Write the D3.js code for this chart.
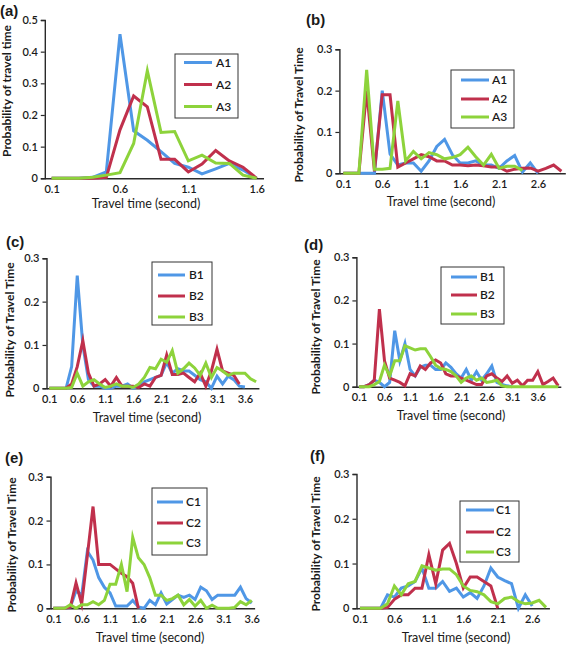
<!DOCTYPE html>
<html><head><meta charset="utf-8">
<script src="https://cdn.jsdelivr.net/npm/d3@7/dist/d3.min.js"></script>
<style>
body{margin:0;background:#fff;}
svg{display:block;}
text{font-family:Lato,"Open Sans",sans-serif;fill:#1a1a1a;}
</style></head><body>
<svg id="chart" width="568" height="645"></svg>
<script>
// ---------- categories (travel time, seconds) ----------
const catsA = ["0.1","0.2","0.3","0.4","0.5","0.6","0.7","0.8","0.9","1.0","1.1","1.2","1.3","1.4","1.5","1.6"];
const catsB = ["0.1","0.2","0.3","0.4","0.5","0.6","0.7","0.8","0.9","1.0","1.1","1.2","1.3","1.4","1.5","1.6","1.7","1.8","1.9","2.0","2.1","2.2","2.3","2.4","2.5","2.6","2.7","2.8","2.9"];
const catsC = ["0.1","0.2","0.3","0.4","0.5","0.6","0.7","0.8","0.9","1.0","1.1","1.2","1.3","1.4","1.5","1.6","1.7","1.8","1.9","2.0","2.1","2.2","2.3","2.4","2.5","2.6","2.7","2.8","2.9","3.0","3.1","3.2","3.3","3.4","3.5","3.6","3.7","3.8"];
const catsD = ["0.1","0.2","0.3","0.4","0.5","0.6","0.7","0.8","0.9","1.0","1.1","1.2","1.3","1.4","1.5","1.6","1.7","1.8","1.9","2.0","2.1","2.2","2.3","2.4","2.5","2.6","2.7","2.8","2.9","3.0","3.1","3.2","3.3","3.4","3.5","3.6","3.7","3.8","3.9","4.0"];
const catsE = ["0.1","0.2","0.3","0.4","0.5","0.6","0.7","0.8","0.9","1.0","1.1","1.2","1.3","1.4","1.5","1.6","1.7","1.8","1.9","2.0","2.1","2.2","2.3","2.4","2.5","2.6","2.7","2.8","2.9","3.0","3.1","3.2","3.3","3.4","3.5","3.6"];
const catsF = ["0.1","0.2","0.3","0.4","0.5","0.6","0.7","0.8","0.9","1.0","1.1","1.2","1.3","1.4","1.5","1.6","1.7","1.8","1.9","2.0","2.1","2.2","2.3","2.4","2.5","2.6","2.7","2.8"];

// ---------- x tick labels ----------
const xTicksA = ["0.1","0.6","1.1","1.6"];
const xTicksB = ["0.1","0.6","1.1","1.6","2.1","2.6"];
const xTicksC = ["0.1","0.6","1.1","1.6","2.1","2.6","3.1","3.6"];
const xTicksD = ["0.1","0.6","1.1","1.6","2.1","2.6","3.1","3.6"];
const xTicksE = ["0.1","0.6","1.1","1.6","2.1","2.6","3.1","3.6"];
const xTicksF = ["0.1","0.6","1.1","1.6","2.1","2.6"];

// ---------- y tick values ----------
const yTicksA = [0,0.1,0.2,0.3,0.4,0.5];
const yTicks3 = [0,0.1,0.2,0.3];

// ---------- series names ----------
const namesA = ["A1","A2","A3"];
const namesB = ["B1","B2","B3"];
const namesC = ["C1","C2","C3"];

// ---------- panel (a) ----------
const a_A1 = [0,0,0,0.003,0.02,0.455,0.15,0.12,0.084,0.047,0.035,0.014,0.03,0.047,0.026,0];
const a_A2 = [0,0,0,0,0.003,0.153,0.26,0.226,0.06,0.06,0.02,0.045,0.088,0.055,0.035,0];
const a_A3 = [0,0,0,0.003,0.01,0.018,0.11,0.34,0.145,0.148,0.055,0.073,0.048,0.047,0.01,0];

// ---------- panel (b) ----------
const b_A1 = [0,0,0,0,0,0.2,0.047,0.02,0.025,0.025,0.005,0.03,0.065,0.082,0.045,0.025,0.025,0.03,0.02,0.02,0.012,0.03,0.043,0.003,0.025,0];
const b_A2 = [0,0,0,0.2,0.005,0.19,0.19,0.015,0.025,0.035,0.045,0.04,0.03,0.03,0.02,0.02,0.018,0.02,0.018,0.015,0.015,0.005,0.01,0.012,0.013,0.005,0.012,0.02,0.005];
const b_A3 = [0,0,0,0.25,0.01,0.01,0.012,0.175,0.03,0.053,0.035,0.05,0.045,0.035,0.038,0.045,0.063,0.04,0.02,0.046,0.012,0.017,0.017,0.007];

// ---------- panel (c) ----------
const c_B1 = [0,0,0,0,0.05,0.26,0.1,0.02,0.005,0.005,0,0,0.005,0.005,0.01,0,0.005,0.015,0.02,0.025,0.03,0.06,0.035,0.045,0.04,0.04,0.03,0.02,0.015,0,0.028,0.01,0.028,0.02,0.005,0.003];
const c_B2 = [0,0,0,0,0.01,0.05,0.11,0.035,0.005,0.01,0.02,0.005,0.025,0.005,0.005,0.005,0.002,0.01,0.005,0.025,0.03,0.077,0.032,0.032,0.035,0.025,0.015,0.035,0.005,0.04,0.09,0.04,0.035,0.03,0.01];
const c_B3 = [0,0,0,0,0.002,0.035,0.005,0.015,0.02,0.01,0.002,0.005,0.01,0.005,0.005,0.002,0.01,0.025,0.048,0.045,0.067,0.06,0.087,0.035,0.045,0.058,0.047,0.03,0.058,0.025,0.048,0.04,0.03,0.035,0.035,0.035,0.022,0.015];

// ---------- panel (d) ----------
const d_B1 = [0,0,0.005,0.015,0.01,0,0.01,0.13,0.06,0.1,0.04,0.025,0.045,0.05,0.05,0.04,0.04,0.055,0.045,0.03,0.02,0.04,0.015,0.035,0.015,0.03,0.048,0.01,0.005,0.002,0];
const d_B2 = [0,0,0.005,0.015,0.18,0.06,0.02,0.015,0.01,0.002,0.03,0.025,0.048,0.04,0.055,0.062,0.055,0.03,0.025,0.025,0.02,0.015,0.01,0.005,0.005,0.025,0.03,0.02,0.012,0.025,0.008,0.015,0.002,0.015,0.015,0.035,0.005,0.012,0.02,0.002];
const d_B3 = [0,0,0,0.005,0.012,0.05,0.025,0.06,0.06,0.095,0.09,0.085,0.088,0.088,0.07,0.05,0.042,0.04,0.035,0.025,0.01,0.02,0.025,0.015,0.02,0.01,0.012,0.015,0.002,0,0,0,0,0,0,0,0,0,0,0];

// ---------- panel (e) ----------
const e_C1 = [0,0,0,0.003,0.04,0.03,0.13,0.11,0.07,0.048,0.035,0.005,0.005,0.005,0.018,0.003,0,0.018,0.008,0.035,0.01,0.02,0.03,0.025,0.03,0.02,0.048,0.04,0.02,0.03,0.03,0.03,0.03,0.048,0.022,0.012];
const e_C2 = [0,0,0,0.003,0.058,0.01,0.12,0.232,0.1,0.1,0.1,0.09,0.08,0.072,0.057,0];
const e_C3 = [0,0,0,0.008,0,0.008,0.008,0.015,0.008,0.018,0.055,0.055,0.1,0.038,0.162,0.115,0.1,0.07,0.03,0.03,0.018,0.022,0.03,0.008,0.02,0.005,0.018,0,0.007,0,0,0,0.002,0.015,0.008,0.018];

// ---------- panel (f) ----------
const f_C1 = [0,0,0,0,0.03,0.025,0.045,0.05,0.06,0.09,0.045,0.045,0.06,0.038,0.045,0.025,0.035,0.022,0.05,0.09,0.07,0.062,0.055,0,0.03,0.005];
const f_C2 = [0,0,0,0,0.002,0.02,0.03,0.03,0.045,0.045,0.12,0.055,0.13,0.145,0.1,0.045,0.07,0.07,0.06,0.05,0];
const f_C3 = [0,0,0,0,0.01,0.05,0.03,0.055,0.06,0.095,0.09,0.085,0.088,0.088,0.075,0.05,0.04,0.037,0.03,0.015,0.01,0.022,0.025,0.015,0.01,0.012,0.018,0.002];

const colors = ["#4f97e6","#c0304c","#8dd33b"];

const panels = [
  {title:"(a)", cats:catsA, xt:xTicksA, yt:yTicksA, ymax:0.5, names:namesA, series:[a_A1,a_A2,a_A3],
   ylabel:"Probability of travel time",
   L:{tx:0, ty:16, x0:44.8, step:13.67, yZero:178.3, yTop:20, ylx:7, yly:91, xtx:146, xty:208,
      box:[175,54,63,64], lx:[184,212], ltx:216, lys:[62.5,84.5,106.5]}},
  {title:"(b)", cats:catsB, xt:xTicksB, yt:yTicks3, ymax:0.3, names:namesA, series:[b_A1,b_A2,b_A3],
   ylabel:"Probability of Travel Time",
   L:{tx:306, ty:25, x0:339.4, step:7.79, yZero:173.3, yTop:49.3, ylx:299, yly:115, xtx:441, xty:206,
      box:[451,70,63,58], lx:[461,489], ltx:492, lys:[80,99,117]}},
  {title:"(c)", cats:catsC, xt:xTicksC, yt:yTicks3, ymax:0.3, names:namesB, series:[c_B1,c_B2,c_B3],
   ylabel:"Probability of Travel Time",
   L:{tx:6, ty:247, x0:46.5, step:5.59, yZero:388.3, yTop:258.3, ylx:10, yly:330, xtx:147, xty:422,
      box:[152,262,60,63], lx:[158,185], ltx:189, lys:[275,296,317]}},
  {title:"(d)", cats:catsD, xt:xTicksD, yt:yTicks3, ymax:0.3, names:namesB, series:[d_B1,d_B2,d_B3],
   ylabel:"Probability of Travel Time",
   L:{tx:304, ty:250, x0:356.4, step:5.11, yZero:386.7, yTop:257.3, ylx:316, yly:327, xtx:451, xty:420,
      box:[441,267,63,57], lx:[451,477], ltx:480, lys:[277,295,314]}},
  {title:"(e)", cats:catsE, xt:xTicksE, yt:yTicks3, ymax:0.3, names:namesC, series:[e_C1,e_C2,e_C3],
   ylabel:"Probability of Travel Time",
   L:{tx:5, ty:463, x0:50.5, step:5.67, yZero:608.3, yTop:476.7, ylx:12, yly:545, xtx:150, xty:642,
      box:[152,488,55,67], lx:[157,183], ltx:186, lys:[502,523,543]}},
  {title:"(f)", cats:catsF, xt:xTicksF, yt:yTicks3, ymax:0.3, names:namesC, series:[f_C1,f_C2,f_C3],
   ylabel:"Probability of Travel Time",
   L:{tx:310, ty:461, x0:356.5, step:6.89, yZero:608.3, yTop:474, ylx:316, yly:544, xtx:456, xty:642,
      box:[460,501,59,61], lx:[466,494], ltx:496, lys:[510,532,552]}}
];

const svg = d3.select("#chart");
const axisColor = "#2a2a2a";

panels.forEach(p => {
  const L = p.L;
  const g = svg.append("g");
  const x = d3.scalePoint().domain(p.cats)
      .range([L.x0, L.x0 + p.cats.length * L.step]).padding(0.5);
  const y = d3.scaleLinear().domain([0, p.ymax]).range([L.yZero, L.yTop]);

  // y axis
  const ya = g.append("g").attr("transform", `translate(${L.x0},0)`)
    .call(d3.axisLeft(y).tickValues(p.yt).tickSize(4).tickPadding(3)
      .tickFormat(d => d === 0 ? "0" : d3.format(".1f")(d)));
  ya.select(".domain").attr("stroke", axisColor).attr("stroke-width", 1.4);
  ya.selectAll(".tick line").attr("stroke", axisColor).attr("stroke-width", 1.2);
  ya.selectAll(".tick text").style("font-size","11px").style("font-family","Lato").style("font-weight","600").attr("fill","#1a1a1a");

  // x axis
  const xa = g.append("g").attr("transform", `translate(0,${L.yZero})`)
    .call(d3.axisBottom(x).tickValues(p.xt).tickSize(0).tickPadding(7).tickSizeOuter(0));
  xa.select(".domain").attr("stroke", axisColor).attr("stroke-width", 1.6);
  xa.selectAll(".tick text").style("font-size","11px").style("font-family","Lato").style("font-weight","600").attr("fill","#1a1a1a");

  // lines
  const line = d3.line().x((d,i) => x(p.cats[i])).y(d => y(d));
  p.series.forEach((s,k) => {
    g.append("path").datum(s).attr("d", line)
      .attr("fill","none").attr("stroke", colors[k]).attr("stroke-width", 3)
      .attr("stroke-linejoin","miter").attr("stroke-miterlimit",6);
  });

  // titles
  g.append("text").attr("x", L.tx).attr("y", L.ty).text(p.title)
    .style("font-family","'Liberation Sans',Arial,sans-serif").style("font-weight","bold").style("font-size","15px").attr("fill","#111");
  g.append("text").attr("transform", `translate(${L.ylx},${L.yly}) rotate(-90)`)
    .attr("text-anchor","middle").attr("dy","0.35em").text(p.ylabel)
    .style("font-weight","bold").style("font-size","12px");
  g.append("text").attr("x", L.xtx).attr("y", L.xty).attr("text-anchor","middle")
    .text("Travel time (second)").style("font-size","12.5px");

  // legend
  const b = L.box;
  g.append("rect").attr("x",b[0]).attr("y",b[1]).attr("width",b[2]).attr("height",b[3])
    .attr("fill","#fff").attr("stroke","#333").attr("stroke-width",1);
  p.names.forEach((n,k) => {
    g.append("line").attr("x1",L.lx[0]).attr("x2",L.lx[1]).attr("y1",L.lys[k]).attr("y2",L.lys[k])
      .attr("stroke",colors[k]).attr("stroke-width",3);
    g.append("text").attr("x",L.ltx).attr("y",L.lys[k]).attr("dy","0.35em").text(n)
      .style("font-size","12px").style("font-weight","600");
  });
});
</script>
</body></html>
